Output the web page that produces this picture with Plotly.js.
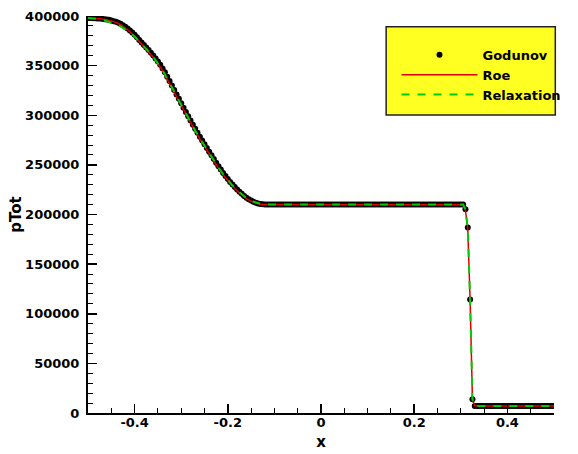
<!DOCTYPE html>
<html>
<head>
<meta charset="utf-8">
<script src="https://cdn.plot.ly/plotly-3.0.1.min.js"></script>
<style>html,body{margin:0;padding:0;background:#fff;}#chart{width:578px;height:454px;}</style>
</head>
<body>
<div id="chart"></div>
<script>
// Godunov cell values (x, pTot)
var godunovX = [
-0.5,-0.495,-0.49,-0.485,-0.48,-0.475,-0.47,-0.465,-0.46,-0.455,
-0.45,-0.445,-0.44,-0.435,-0.43,-0.425,-0.42,-0.415,-0.41,-0.405,
-0.4,-0.395,-0.39,-0.385,-0.38,-0.375,-0.37,-0.365,-0.36,-0.355,
-0.35,-0.345,-0.34,-0.335,-0.33,-0.325,-0.32,-0.315,-0.31,-0.305,
-0.3,-0.295,-0.29,-0.285,-0.28,-0.275,-0.27,-0.265,-0.26,-0.255,
-0.25,-0.245,-0.24,-0.235,-0.23,-0.225,-0.22,-0.215,-0.21,-0.205,
-0.2,-0.195,-0.19,-0.185,-0.18,-0.175,-0.17,-0.165,-0.16,-0.155,
-0.15,-0.145,-0.14,-0.135,-0.13,-0.125,-0.12,-0.115,-0.11,-0.105,
-0.1,-0.095,-0.09,-0.085,-0.08,-0.075,-0.07,-0.065,-0.06,-0.055,
-0.05,-0.045,-0.04,-0.035,-0.03,-0.025,-0.02,-0.015,-0.01,-0.005,
0,0.005,0.01,0.015,0.02,0.025,0.03,0.035,0.04,0.045,
0.05,0.055,0.06,0.065,0.07,0.075,0.08,0.085,0.09,0.095,
0.1,0.105,0.11,0.115,0.12,0.125,0.13,0.135,0.14,0.145,
0.15,0.155,0.16,0.165,0.17,0.175,0.18,0.185,0.19,0.195,
0.2,0.205,0.21,0.215,0.22,0.225,0.23,0.235,0.24,0.245,
0.25,0.255,0.26,0.265,0.27,0.275,0.28,0.285,0.29,0.295,
0.3,0.305,0.31,0.315,0.32,0.325,0.33,0.335,0.34,0.345,
0.35,0.355,0.36,0.365,0.37,0.375,0.38,0.385,0.39,0.395,
0.4,0.405,0.41,0.415,0.42,0.425,0.43,0.435,0.44,0.445,
0.45,0.455,0.46,0.465,0.47,0.475,0.48,0.485,0.49,0.495,
0.5];
var godunovY = [
398000,398000,397850,397700,397600,397500,397200,396800,396500,396100,
395500,394800,394100,393300,392100,390600,389100,387300,385400,383300,
381200,378600,375900,373400,370900,368300,365700,363000,360100,357200,
354200,350900,347200,343400,338800,334400,330000,325400,321000,316500,
312000,307600,303200,298900,294700,290500,286300,282300,278400,274600,
270800,267100,263300,259600,255800,252200,248700,245300,241900,238800,
235700,232800,230200,227700,225300,222900,220800,218700,216900,215300,
214000,212800,211900,211200,210600,210300,210100,210000,210000,210000,
210000,210000,210000,210000,210000,210000,210000,210000,210000,210000,
210000,210000,210000,210000,210000,210000,210000,210000,210000,210000,
210000,210000,210000,210000,210000,210000,210000,210000,210000,210000,
210000,210000,210000,210000,210000,210000,210000,210000,210000,210000,
210000,210000,210000,210000,210000,210000,210000,210000,210000,210000,
210000,210000,210000,210000,210000,210000,210000,210000,210000,210000,
210000,210000,210000,210000,210000,210000,210000,210000,210000,210000,
210000,210000,210000,210000,210000,210000,210000,210000,210000,210000,
210000,210000,205400,186900,114300,13800,7000,7000,7000,7000,
7000,7000,7000,7000,7000,7000,7000,7000,7000,7000,
7000,7000,7000,7000,7000,7000,7000,7000,7000,7000,
7000,7000,7000,7000,7000,7000,7000,7000,7000,7000,
7000];

// Roe solution
var roeX = [
-0.5,-0.49,-0.48,-0.47,-0.46,-0.45,-0.44,-0.43,-0.42,-0.41,
-0.4,-0.39,-0.38,-0.37,-0.36,-0.35,-0.34,-0.33,-0.32,-0.31,
-0.3,-0.29,-0.28,-0.27,-0.26,-0.25,-0.24,-0.23,-0.22,-0.21,
-0.2,-0.19,-0.18,-0.17,-0.16,-0.15,-0.14,-0.13,-0.12,-0.11,
0.305,0.31,0.315,0.32,0.325,0.33,0.335,0.5];
var roeY = [
398000,397760,397540,396960,396260,395080,393620,391200,388020,384140,
379640,374400,369340,364080,358360,352220,344920,336160,327240,318300,
309360,300620,292180,283900,276120,268580,261080,253640,246660,240040,
233960,228700,223860,219540,215940,213280,211480,210420,210060,210000,
209800,204000,185000,113000,13000,7200,7000,7000];

// Relaxation solution
var relaxX = [
-0.5,-0.49,-0.48,-0.47,-0.46,-0.45,-0.44,-0.43,-0.42,-0.41,
-0.4,-0.39,-0.38,-0.37,-0.36,-0.35,-0.34,-0.33,-0.32,-0.31,
-0.3,-0.29,-0.28,-0.27,-0.26,-0.25,-0.24,-0.23,-0.22,-0.21,
-0.2,-0.19,-0.18,-0.17,-0.16,-0.15,-0.14,-0.13,-0.12,-0.11,
0.305,0.31,0.315,0.32,0.325,0.33,0.335,0.5];
var relaxY = [
398000,397700,397200,396300,395000,393500,391700,389500,386800,383400,
379300,374500,369500,364300,358700,352600,345400,336800,327900,319000,
310000,301300,292900,284600,276800,269200,261700,254300,247300,240600,
234500,229200,224400,220100,216500,213700,211800,210700,210200,210000,
210000,205000,186000,114000,14000,7200,7000,7000];

var seriesNames = ['Godunov', 'Roe', 'Relaxation'];
var xTickVals = [-0.4, -0.2, 0, 0.2, 0.4];
var xTickText = ['-0.4', '-0.2', '0', '0.2', '0.4'];
var xTitle = 'x';
var yTitle = 'pTot';

var FONT = 'DejaVu Sans, Liberation Sans, Arial, sans-serif';

var traces = [
  {x: godunovX, y: godunovY, name: seriesNames[0], type: 'scatter', mode: 'markers',
   marker: {color: '#000000', size: 6}},
  {x: roeX, y: roeY, name: seriesNames[1], type: 'scatter', mode: 'lines',
   line: {color: '#e00000', width: 1.5}},
  {x: relaxX, y: relaxY, name: seriesNames[2], type: 'scatter', mode: 'lines',
   line: {color: '#00cc00', width: 2, dash: '8px,8px'}}
];

var layout = {
  width: 578, height: 454,
  margin: {l: 88, r: 23, t: 16, b: 41, pad: 0},
  paper_bgcolor: '#ffffff', plot_bgcolor: '#ffffff',
  showlegend: true,
  legend: {
    x: 0.6606, y: 0.9401, xanchor: 'left', yanchor: 'top',
    bgcolor: 'rgba(0,0,0,0)', borderwidth: 0,
    itemwidth: 76, tracegroupgap: 0,
    font: {family: FONT, size: 13, weight: 'bold', color: '#000'}
  },
  shapes: [{type: 'rect', xref: 'paper', yref: 'paper', layer: 'below',
    x0: 0.6398, x1: 1.0028, y0: 0.7508, y1: 0.9731,
    fillcolor: '#ffff22', line: {color: '#222', width: 1.5}}],
  xaxis: {
    range: [-0.5, 0.5], tickmode: 'array', tickvals: xTickVals, ticktext: xTickText,
    ticks: 'inside', ticklen: 9, tickwidth: 1.5, tickcolor: '#000',
    minor: {dtick: 0.05, tick0: 0, ticks: 'inside', ticklen: 5, tickwidth: 1, tickcolor: '#000', showgrid: false},
    showline: true, linewidth: 2, linecolor: '#000', mirror: false,
    showgrid: false, zeroline: false,
    tickfont: {family: FONT, size: 13, weight: 'bold', color: '#000'},
    ticklabelstandoff: -4,
    title: {text: xTitle, standoff: 8, font: {family: FONT, size: 15, weight: 'bold', color: '#000'}}
  },
  yaxis: {
    range: [0, 400000], tick0: 0, dtick: 50000, tickformat: 'd',
    ticks: 'inside', ticklen: 9, tickwidth: 1.5, tickcolor: '#000',
    minor: {dtick: 10000, ticks: 'inside', ticklen: 5, tickwidth: 1, tickcolor: '#000', showgrid: false},
    showline: true, linewidth: 2, linecolor: '#000', mirror: false,
    showgrid: false, zeroline: false,
    tickfont: {family: FONT, size: 13, weight: 'bold', color: '#000'},
    ticklabelstandoff: 4,
    title: {text: yTitle, standoff: 0, font: {family: FONT, size: 15, weight: 'bold', color: '#000'}}
  }
};

Plotly.newPlot('chart', traces, layout, {staticPlot: true, displayModeBar: false});
</script>
</body>
</html>
